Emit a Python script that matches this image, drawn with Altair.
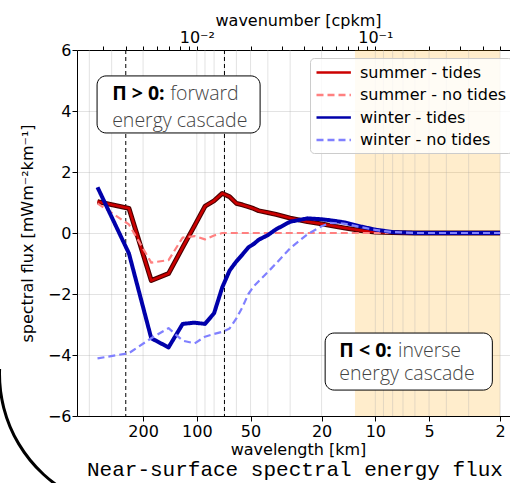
import altair as alt
import pandas as pd

# ---------------- data ----------------
wavelength_km = [360, 240, 180, 144, 120, 102.9, 90, 80, 72, 65.5, 60, 55.4, 51.4, 48,
                 45, 40, 36, 30, 24, 20, 18, 15, 12, 10, 8, 6, 4, 2]
summer_tides = [1.03, 0.81, -1.56, -1.33, -0.47, 0.24, 0.875, 1.06, 1.30, 1.19, 0.97, 0.92,
                0.86, 0.80, 0.73, 0.67, 0.61, 0.49, 0.37, 0.30, 0.25, 0.17, 0.08, 0.03,
                0.01, 0.0, 0.0, 0.0]
summer_no_tides = [0.97, 0.28, -0.97, -0.89, -0.15, -0.10, -0.21, -0.08, 0.0, 0.0, 0.0, 0.0,
                   0.0, 0.0, 0.0, 0.0, 0.0, 0.0, 0.0, 0.0, 0.0, 0.0, 0.0, 0.0, 0.0, 0.0,
                   0.0, 0.0]
winter_tides = [1.50, -0.67, -3.45, -3.75, -2.98, -2.94, -2.98, -2.63, -1.78, -1.23, -0.93,
                -0.70, -0.47, -0.36, -0.22, -0.07, 0.12, 0.37, 0.48, 0.45, 0.42, 0.35, 0.21,
                0.11, 0.03, 0.0, 0.0, 0.0]
winter_no_tides = [-4.11, -3.94, -3.45, -3.12, -3.53, -3.62, -3.40, -3.31, -3.24, -3.13,
                   -2.80, -2.42, -2.00, -1.75, -1.58, -1.28, -1.00, -0.50, -0.04, 0.22, 0.33,
                   0.31, 0.19, 0.10, 0.03, 0.0, 0.0, 0.0]

series_names = ["summer - tides", "summer - no tides", "winter - tides", "winter - no tides"]
series_values = [summer_tides, summer_no_tides, winter_tides, winter_no_tides]
series_colors = ["#cc0000", "#ff8080", "#0000aa", "#8080ff"]
series_widths = [2.6, 2.2, 4.0, 2.2]
series_dashes = [[1, 0], [7, 4], [1, 0], [7, 4]]

x_tick_km = [200, 100, 50, 20, 10, 5, 2]
x_grid_km = [2, 3, 4, 5, 6, 7, 8, 9, 10, 20, 30, 40, 50, 60, 70, 80, 90, 100, 200, 300, 400]
y_ticks = [-6, -4, -2, 0, 2, 4, 6]
k_ticks = [0.003, 0.004, 0.005, 0.006, 0.007, 0.008, 0.009, 0.01, 0.02, 0.03, 0.04, 0.05,
           0.06, 0.07, 0.08, 0.09, 0.1, 0.2, 0.3, 0.4, 0.5]
cascade_lines_km = [250, 70]
band_start_km = [13]
band_end_km = [2]

box_x1 = [362, 19.1]
box_x2 = [44.2, 2.21]
box_y1 = [5.15, -3.28]
box_y2 = [3.28, -5.15]
ann_bold = ["Π > 0:", "Π < 0:"]
ann_bold_x = [298, 15.9]
ann_light = ["forward", "inverse"]
ann_light_x = [141, 7.46]
ann_y1 = [4.36, -4.07]
ann_line2 = ["energy cascade", "energy cascade"]
ann_y2 = [3.48, -4.82]
caption = ["Near-surface spectral energy flux"]

x_domain = [1.76, 469]

# ---------------- tables ----------------
series_dfs = [pd.DataFrame({"series": name, "wl": wavelength_km, "v": vals})
              for name, vals in zip(series_names, series_values)]

W, H = 433, 366
FONT = "DejaVu Sans"

xscale = alt.Scale(type="log", domain=x_domain, reverse=True, nice=False)
xaxis = alt.Axis(values=x_tick_km, format="d", grid=False, tickSize=5, tickColor="black",
                 domainColor="black", labelFont=FONT, labelFontSize=16, labelColor="black",
                 labelPadding=2, labelFlush=False, title="wavelength [km]", titleFont=FONT,
                 titleFontSize=16, titleFontWeight="normal", titleColor="black",
                 titleX=221, titleY=25, titleBaseline="top", titleAlign="center")
yscale = alt.Scale(domain=[-6, 6], nice=False, zero=False)
yaxis = alt.Axis(values=y_ticks, grid=True, gridColor="#b0b0b0", gridOpacity=0.35,
                 tickSize=5, tickColor="black", domainColor="black", labelFont=FONT,
                 labelFontSize=16, labelColor="black", labelPadding=1,
                 title="spectral flux [mWm⁻²km⁻¹]", titleFont=FONT, titleFontSize=16,
                 titleFontWeight="normal", titleColor="black", titleX=-50, titleY=183,
                 titleAlign="center", titleBaseline="middle", titleAngle=270)


def X(field):
    return alt.X(field, type="quantitative", scale=xscale, axis=xaxis)


def Y(field):
    return alt.Y(field, type="quantitative", scale=yscale, axis=yaxis)


band = alt.Chart(pd.DataFrame({"a": band_start_km, "b": band_end_km})).mark_rect(
    color="#ffa500", opacity=0.2).encode(x=X("a"), x2="b", y=alt.value(0), y2=alt.value(H))

grid = alt.Chart(pd.DataFrame({"g": x_grid_km})).mark_rule(
    color="#b0b0b0", opacity=0.35, strokeWidth=1).encode(x=X("g"))

vlines = alt.Chart(pd.DataFrame({"c": cascade_lines_km})).mark_rule(
    color="black", strokeWidth=1, strokeDash=[4, 3]).encode(x=X("c"))

boxes_df = pd.DataFrame({"x1": box_x1, "x2": box_x2, "y1": box_y1, "y2": box_y2})
boxes = alt.Chart(boxes_df).mark_rect(cornerRadius=9, fill="white", stroke="black",
                                      strokeWidth=1).encode(
    x=X("x1"), x2="x2", y=Y("y1"), y2="y2")

ann_df = pd.DataFrame({"bold": ann_bold, "bx": ann_bold_x, "light": ann_light,
                       "lx": ann_light_x, "y1": ann_y1, "l2": ann_line2, "y2": ann_y2})
ann_b = alt.Chart(ann_df).mark_text(font="Open Sans", fontSize=19.5, fontWeight="bold",
                                    align="left", baseline="alphabetic", color="black").encode(
    x=X("bx"), y=Y("y1"), text="bold:N")
ann_l = alt.Chart(ann_df).mark_text(font="Open Sans", fontSize=19.5, fontWeight=300,
                                    align="left", baseline="alphabetic", color="#444444").encode(
    x=X("lx"), y=Y("y1"), text="light:N")
ann_2 = alt.Chart(ann_df).mark_text(font="Open Sans", fontSize=19.5, fontWeight=300,
                                    align="left", baseline="alphabetic", color="#444444").encode(
    x=X("bx"), y=Y("y2"), text="l2:N")

outline = alt.Chart(series_dfs[0]).mark_line(
    color="#4a0000", strokeWidth=4.8, strokeJoin="round").encode(x=X("wl"), y=Y("v"))

legend = alt.Legend(title=None, orient="none", legendX=233, legendY=8,
                    symbolType="M-1,0L3.3,0", symbolSize=256, symbolStrokeWidth=2.5,
                    labelFont=FONT, labelFontSize=16, labelColor="black", labelOffset=26,
                    padding=5, rowPadding=4.5, fillColor="rgba(255,255,255,0.8)",
                    strokeColor="#cccccc", cornerRadius=4, labelLimit=300)

color_enc = alt.Color("series:N", scale=alt.Scale(domain=series_names, range=series_colors),
                      legend=legend)
dash_enc = alt.StrokeDash("series:N", scale=alt.Scale(domain=series_names, range=series_dashes),
                          legend=legend)

line_layers = []
for df, w in zip(series_dfs, series_widths):
    line_layers.append(
        alt.Chart(df).mark_line(strokeWidth=w, strokeJoin="round").encode(
            x=X("wl"), y=Y("v"), color=color_enc, strokeDash=dash_enc))

cap = alt.Chart(pd.DataFrame({"t": caption})).mark_text(
    font="Liberation Mono", fontSize=21, align="left", baseline="alphabetic",
    color="black").encode(x=alt.value(10), y=alt.value(426), text="t:N")

arc = alt.Chart(pd.DataFrame({"t": caption})).mark_arc(
    innerRadius=135, outerRadius=138, color="black").encode(
    x=alt.value(59), y=alt.value(324), theta=alt.value(3.6), theta2=alt.value(4.75))

main = alt.layer(band, grid, vlines, boxes, ann_b, ann_l, ann_2, outline, *line_layers, cap, arc)

top = alt.Chart(pd.DataFrame({"k": k_ticks})).mark_point(opacity=0).encode(
    x=alt.X("k:Q", scale=alt.Scale(type="log", domain=[1 / x_domain[1], 1 / x_domain[0]],
                                   nice=False),
            axis=alt.Axis(orient="top", values=k_ticks, grid=False, tickSize=4,
                          tickColor="black", domainColor="black", labelFont=FONT,
                          labelFontSize=16, labelColor="black", labelPadding=1,
                          labelFlush=False,
                          labelExpr="datum.value == 0.01 ? '10⁻²' : (datum.value == 0.1 ? '10⁻¹' : '')",
                          title="wavenumber [cpkm]", titleFont=FONT, titleFontSize=16,
                          titleFontWeight="normal", titleColor="black", titleX=221,
                          titleY=-25, titleBaseline="alphabetic", titleAlign="center")),
)

chart = alt.layer(main, top).resolve_scale(x="independent").properties(
    width=W, height=H,
    padding={"left": 77, "top": 50, "right": 0, "bottom": 67},
    autosize=alt.AutoSizeParams(type="none"),
).configure_view(stroke=None)

chart.save("out.html", embed_options={"renderer": "svg", "actions": False})
